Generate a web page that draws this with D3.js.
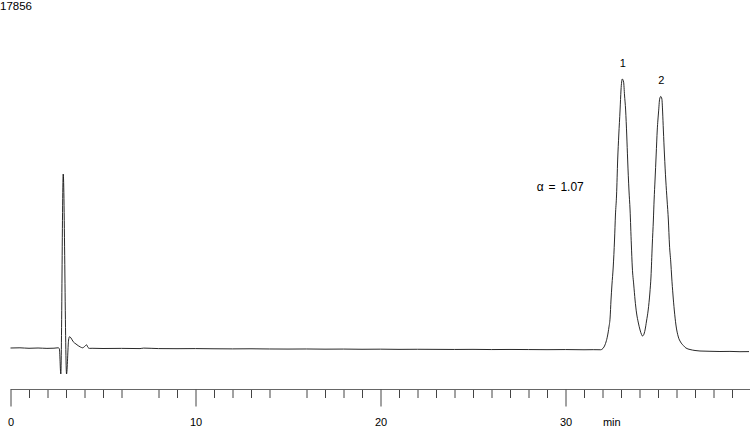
<!DOCTYPE html>
<html>
<head>
<meta charset="utf-8">
<script src="https://cdn.jsdelivr.net/npm/d3@7/dist/d3.min.js"></script>
<style>
  html, body { margin: 0; padding: 0; background: #fff; }
  svg { display: block; }
  text { font-family: "Liberation Sans", Arial, Helvetica, sans-serif; font-size: 11px; fill: #000; }
</style>
</head>
<body>
<svg id="chart" width="750" height="427"></svg>
<script>
// ---- data ----
const fullScale = 17856;               // detector full-scale label (top of plot)
const timeMin = [
  0, 0.51, 1.00, 1.49, 1.97, 2.35, 2.57, 2.64, 2.72, 2.85, 3.03, 3.14, 3.19, 3.27, 3.39, 3.54,
  3.66, 3.78, 3.90, 4.00, 4.11, 4.19, 4.27, 4.41, 5, 6, 7, 7.2, 8, 9, 10, 11, 12, 13, 14, 15,
  16, 17, 18, 19, 20, 21, 22, 23, 24, 25, 26, 27, 28, 29, 30, 31, 31.5, 31.9,
  31.97, 32.08, 32.19, 32.27, 32.35, 32.41, 32.46, 32.51, 32.58, 32.65, 32.70, 32.76, 32.82,
  32.88, 32.95, 33.00, 33.07, 33.14, 33.19, 33.25, 33.31, 33.36, 33.43, 33.49, 33.56, 33.61,
  33.69, 33.76, 33.84, 33.94, 34.03, 34.11, 34.16, 34.22, 34.30, 34.38, 34.47, 34.56, 34.62,
  34.69, 34.75, 34.79, 34.84, 34.90, 34.96, 35.03, 35.09, 35.15, 35.21, 35.25, 35.29, 35.35,
  35.42, 35.49, 35.56, 35.62, 35.69, 35.74, 35.81, 35.88, 35.97, 36.10, 36.22, 36.37, 36.51,
  36.73, 37.00, 37.27, 37.81, 38.35, 38.89, 39.43, 39.92
];
const signal = [
  0, 10, -15, 0, -20, -10, 10, -30, -1334, 8928, -1334, 410, 580, 513, 323, 205,
  118, 51, 10, 72, 164, 26, -20, -15, -26, -20, -30, -5, -30, -35, -30, -40, -45, -40, -50, -55,
  -50, -60, -55, -65, -60, -70, -65, -70, -75, -70, -80, -75, -80, -85, -80, -90, -85, -90,
  -67, 51, 308, 616, 1078, 1539, 2463, 3233, 4156, 5542, 6824, 7851, 9647,
  10929, 12212, 13238, 13802, 13649, 12981, 12212, 10929, 9647, 8107, 7081, 5285, 4156,
  3233, 2463, 1796, 1283, 924, 693, 616, 667, 924, 1385, 1950, 2822, 3643,
  5285, 6568, 7594, 8620, 9903, 11186, 12110, 12777, 12905, 12777, 12110, 11186, 9903,
  8620, 7594, 6568, 5285, 4413, 3643, 2719, 1950, 1180, 565, 308, 128, 0,
  -77, -128, -154, -169, -180, -174, -190, -185
];
const majorTicks = [0, 10, 20, 30];
const minorTicks = [1, 2, 3, 4, 5, 6, 8, 9, 11, 12, 13, 14, 16, 17, 18, 19,
  21, 22, 23, 24, 25, 26, 27, 28, 29, 31, 32, 33, 34, 35, 36, 37, 38, 39];
const axisUnit = "min";
const peakNames = ["1", "2"];
const peakTimes = [33.07, 35.15];
const peakHeights = [13802, 12905];
const alphaLabel = "\u03b1 = 1.07";

// ---- scales ----
const svg = d3.select("#chart");
const x = d3.scaleLinear().domain([0, 40]).range([10.5, 750.5]);
const y = d3.scaleLinear().domain([0, fullScale]).range([348, 0]);
const axisY = 389.5;

svg.append("rect").attr("width", 750).attr("height", 427).attr("fill", "#fff");

// full-scale label
svg.append("text").attr("x", 0).attr("y", 10).style("font-size", "11.5px").text(fullScale);

// trace
const pts = timeMin.map((t, i) => [t, signal[i]]);
const line = d3.line().x(d => x(d[0])).y(d => y(d[1])).curve(d3.curveMonotoneX);
svg.append("path").datum(pts)
  .attr("d", line)
  .attr("fill", "none")
  .attr("stroke", "#111")
  .attr("stroke-width", 0.9)
  .attr("stroke-linejoin", "round");

// axis: minor ticks
const minorAxis = d3.axisBottom(x).tickValues(minorTicks).tickSize(8.5).tickSizeOuter(0).tickFormat("");
const gMinor = svg.append("g").attr("transform", `translate(0,${axisY})`).call(minorAxis);
// axis: major ticks with labels
const majorAxis = d3.axisBottom(x).tickValues(majorTicks).tickSize(17).tickSizeOuter(0).tickPadding(12);
const gMajor = svg.append("g").attr("transform", `translate(0,${axisY})`).call(majorAxis);
[gMinor, gMajor].forEach(g => {
  g.select(".domain").attr("stroke", "#666");
  g.selectAll(".tick line").attr("stroke", "#444");
  g.selectAll("text").attr("fill", "#000")
    .style("font-family", '"Liberation Sans", Arial, sans-serif').style("font-size", "11px");
});
gMinor.select(".domain").remove();
gMajor.select(".domain").attr("d", `M${x(0)},0H750`);

svg.append("text")
  .attr("x", x(32.5)).attr("y", axisY + 29).attr("dy", "0.71em")
  .attr("text-anchor", "middle").text(axisUnit);

// peak labels
peakNames.forEach((n, i) => {
  svg.append("text")
    .attr("x", x(peakTimes[i]) + 0.5)
    .attr("y", y(peakHeights[i]) - 12.5)
    .attr("text-anchor", "middle")
    .text(n);
});

// selectivity label
svg.append("text")
  .attr("x", x(28.45)).attr("y", 190.5)
  .style("font-size", "12px")
  .style("word-spacing", "1.5px")
  .text(alphaLabel);
</script>
</body>
</html>
